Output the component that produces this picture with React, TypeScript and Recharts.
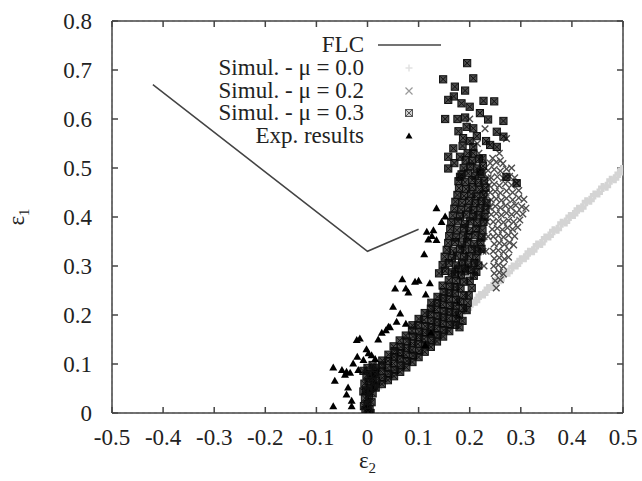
import React from 'react';
import { ScatterChart, Scatter, XAxis, YAxis, CartesianGrid, Legend } from 'recharts';

type P = [number, number];

const xTicks = [-0.5, -0.4, -0.3, -0.2, -0.1, 0, 0.1, 0.2, 0.3, 0.4, 0.5];
const yTicks = [0, 0.1, 0.2, 0.3, 0.4, 0.5, 0.6, 0.7, 0.8];

const legendLabels = ['FLC', 'Simul. - \u03bc = 0.0', 'Simul. - \u03bc = 0.2', 'Simul. - \u03bc = 0.3', 'Exp. results'];

const flc: P[] = [[-0.42, 0.67], [0, 0.33], [0.1, 0.375]];

const simMu00: P[] = [
  [0.020, 0.052], [0.028, 0.064], [0.036, 0.067], [0.044, 0.078], [0.052, 0.082], [0.060, 0.093],
  [0.068, 0.096], [0.076, 0.108], [0.084, 0.111], [0.092, 0.122], [0.100, 0.126], [0.108, 0.137],
  [0.116, 0.140], [0.124, 0.150], [0.132, 0.153], [0.140, 0.163], [0.148, 0.166], [0.156, 0.177],
  [0.164, 0.181], [0.172, 0.193], [0.180, 0.197], [0.188, 0.208], [0.196, 0.212], [0.204, 0.224],
  [0.212, 0.228], [0.220, 0.240], [0.228, 0.243], [0.236, 0.254], [0.244, 0.258], [0.252, 0.269],
  [0.260, 0.272], [0.268, 0.284], [0.276, 0.287], [0.284, 0.298], [0.292, 0.302], [0.300, 0.313],
  [0.308, 0.317], [0.316, 0.328], [0.324, 0.331], [0.332, 0.343], [0.340, 0.346], [0.348, 0.357],
  [0.356, 0.361], [0.364, 0.372], [0.372, 0.375], [0.380, 0.387], [0.388, 0.390], [0.396, 0.401],
  [0.404, 0.405], [0.412, 0.416], [0.420, 0.419], [0.428, 0.431], [0.436, 0.434], [0.444, 0.445],
  [0.452, 0.449], [0.460, 0.460], [0.468, 0.463], [0.476, 0.475], [0.484, 0.478], [0.492, 0.489],
  [0.498, 0.497],
];

const simMu02: P[] = [
  [0.252, 0.255],
  [0.250, 0.270], [0.260, 0.272],
  [0.248, 0.285], [0.258, 0.287], [0.266, 0.284],
  [0.247, 0.300], [0.256, 0.302], [0.266, 0.299],
  [0.248, 0.315], [0.258, 0.317], [0.268, 0.314], [0.276, 0.318],
  [0.246, 0.330], [0.256, 0.332], [0.266, 0.329], [0.277, 0.333],
  [0.248, 0.345], [0.258, 0.347], [0.268, 0.344], [0.278, 0.348], [0.286, 0.343],
  [0.246, 0.360], [0.256, 0.362], [0.266, 0.359], [0.276, 0.363], [0.288, 0.361],
  [0.244, 0.375], [0.254, 0.377], [0.264, 0.374], [0.274, 0.378], [0.284, 0.375], [0.294, 0.379],
  [0.246, 0.390], [0.256, 0.392], [0.266, 0.389], [0.276, 0.393], [0.286, 0.390], [0.298, 0.394],
  [0.242, 0.405], [0.252, 0.407], [0.262, 0.404], [0.272, 0.408], [0.282, 0.405], [0.292, 0.409], [0.304, 0.406],
  [0.240, 0.420], [0.250, 0.422], [0.260, 0.419], [0.270, 0.423], [0.280, 0.420], [0.290, 0.424], [0.302, 0.421], [0.310, 0.418],
  [0.242, 0.435], [0.252, 0.437], [0.262, 0.434], [0.272, 0.438], [0.284, 0.435], [0.296, 0.439], [0.306, 0.436],
  [0.240, 0.450], [0.250, 0.452], [0.260, 0.449], [0.272, 0.453], [0.284, 0.450], [0.296, 0.454],
  [0.238, 0.465], [0.248, 0.467], [0.258, 0.464], [0.270, 0.468], [0.282, 0.465], [0.292, 0.469],
  [0.242, 0.480], [0.254, 0.482], [0.266, 0.479], [0.278, 0.483], [0.288, 0.480],
  [0.236, 0.495], [0.248, 0.497], [0.260, 0.494], [0.272, 0.498],
  [0.240, 0.510], [0.252, 0.512], [0.265, 0.509],
  [0.228, 0.300], [0.232, 0.330], [0.236, 0.360], [0.234, 0.390], [0.238, 0.420], [0.232, 0.450],
  [0.236, 0.480], [0.228, 0.360], [0.224, 0.400], [0.226, 0.330], [0.230, 0.440],
  [0.215, 0.550], [0.230, 0.580], [0.200, 0.600], [0.245, 0.520], [0.260, 0.515], [0.272, 0.560],
  [0.282, 0.500], [0.258, 0.530], [0.218, 0.530],
];

const simMu03: P[] = [
  // vertical stem at e2 ~ 0
  [-0.004, 0.006], [0.004, 0.008], [0.000, 0.018], [0.008, 0.022], [-0.005, 0.030], [0.003, 0.034],
  [0.010, 0.040], [-0.003, 0.046], [0.005, 0.050], [0.012, 0.056], [-0.006, 0.060], [0.002, 0.064],
  [0.010, 0.070], [-0.002, 0.076], [0.006, 0.080], [0.014, 0.084], [-0.008, 0.086], [0.000, 0.092],
  [-0.007, 0.014], [0.006, 0.000], [-0.008, 0.044], [0.001, 0.002],
  // rising band
  [0.016, 0.052], [0.017, 0.066], [0.015, 0.079], [0.016, 0.092], [0.010, 0.098],
  [0.028, 0.059], [0.029, 0.072], [0.027, 0.085], [0.028, 0.097], [0.029, 0.107],
  [0.040, 0.067], [0.041, 0.080], [0.039, 0.092], [0.040, 0.106], [0.041, 0.119],
  [0.052, 0.075], [0.053, 0.088], [0.051, 0.101], [0.052, 0.114], [0.053, 0.126], [0.051, 0.136],
  [0.064, 0.084], [0.065, 0.097], [0.063, 0.110], [0.064, 0.122], [0.065, 0.135], [0.063, 0.148],
  [0.076, 0.093], [0.077, 0.106], [0.075, 0.119], [0.076, 0.132], [0.077, 0.146], [0.075, 0.158],
  [0.088, 0.104], [0.089, 0.117], [0.087, 0.129], [0.088, 0.142], [0.089, 0.156], [0.087, 0.168], [0.088, 0.179],
  [0.100, 0.114], [0.101, 0.127], [0.099, 0.141], [0.100, 0.154], [0.101, 0.166], [0.099, 0.179], [0.100, 0.192],
  [0.112, 0.125], [0.113, 0.138], [0.111, 0.151], [0.112, 0.164], [0.113, 0.177], [0.111, 0.190], [0.112, 0.204],
  [0.124, 0.135], [0.125, 0.148], [0.123, 0.162], [0.124, 0.175], [0.125, 0.188], [0.123, 0.201], [0.124, 0.213], [0.125, 0.225],
  [0.136, 0.146], [0.137, 0.159], [0.135, 0.172], [0.136, 0.185], [0.137, 0.198], [0.135, 0.211], [0.136, 0.224], [0.137, 0.237],
  [0.148, 0.156], [0.149, 0.169], [0.147, 0.182], [0.148, 0.195], [0.149, 0.208], [0.147, 0.221], [0.148, 0.234], [0.149, 0.247], [0.147, 0.260],
  [0.160, 0.167], [0.161, 0.180], [0.159, 0.193], [0.160, 0.206], [0.161, 0.219], [0.159, 0.232], [0.160, 0.245], [0.161, 0.258], [0.159, 0.271],
  [0.172, 0.180], [0.173, 0.192], [0.171, 0.205], [0.172, 0.218], [0.173, 0.231], [0.171, 0.244], [0.172, 0.257], [0.173, 0.270], [0.171, 0.283],
  // streak at e2 ~ 0.18
  [0.180, 0.175], [0.186, 0.188], [0.179, 0.200], [0.187, 0.214], [0.181, 0.227], [0.188, 0.240],
  [0.182, 0.254], [0.189, 0.268], [0.183, 0.281], [0.190, 0.295],
  [0.196, 0.225], [0.198, 0.240], [0.204, 0.255], [0.200, 0.270], [0.208, 0.280], [0.194, 0.210],
  // upper column
  [0.140, 0.285], [0.152, 0.290], [0.165, 0.287], [0.177, 0.293], [0.191, 0.289], [0.203, 0.292], [0.213, 0.288],
  [0.147, 0.302], [0.159, 0.306], [0.173, 0.301], [0.185, 0.307], [0.197, 0.303], [0.209, 0.306], [0.217, 0.301],
  [0.151, 0.319], [0.165, 0.316], [0.175, 0.321], [0.189, 0.318], [0.199, 0.320], [0.213, 0.317],
  [0.155, 0.333], [0.167, 0.331], [0.181, 0.335], [0.191, 0.332], [0.205, 0.334], [0.215, 0.330], [0.223, 0.335],
  [0.158, 0.347], [0.171, 0.349], [0.185, 0.344], [0.195, 0.349], [0.209, 0.345], [0.221, 0.348],
  [0.160, 0.361], [0.173, 0.358], [0.187, 0.362], [0.197, 0.359], [0.211, 0.363], [0.223, 0.358],
  [0.162, 0.376], [0.175, 0.373], [0.189, 0.377], [0.199, 0.372], [0.213, 0.376], [0.225, 0.373],
  [0.164, 0.389], [0.177, 0.391], [0.191, 0.386], [0.201, 0.391], [0.215, 0.387], [0.227, 0.390],
  [0.167, 0.403], [0.181, 0.401], [0.193, 0.405], [0.207, 0.401], [0.217, 0.404], [0.229, 0.400],
  [0.170, 0.417], [0.183, 0.415], [0.197, 0.419], [0.207, 0.414], [0.221, 0.418], [0.231, 0.415],
  [0.172, 0.431], [0.185, 0.429], [0.199, 0.433], [0.211, 0.428], [0.223, 0.432], [0.233, 0.429],
  [0.176, 0.445], [0.189, 0.443], [0.203, 0.447], [0.213, 0.442], [0.227, 0.446],
  [0.179, 0.459], [0.193, 0.457], [0.205, 0.461], [0.219, 0.456], [0.231, 0.460],
  [0.178, 0.473], [0.191, 0.471], [0.205, 0.475], [0.217, 0.470], [0.228, 0.474],
  [0.184, 0.487], [0.197, 0.489], [0.211, 0.484], [0.223, 0.488],
  [0.188, 0.500], [0.201, 0.503], [0.214, 0.499], [0.226, 0.504],
  [0.192, 0.516], [0.205, 0.514], [0.218, 0.518],
  // scattered top
  [0.195, 0.714], [0.207, 0.683], [0.148, 0.681], [0.171, 0.666], [0.191, 0.658], [0.158, 0.639],
  [0.169, 0.646], [0.184, 0.632], [0.227, 0.637], [0.248, 0.636], [0.152, 0.600], [0.191, 0.603],
  [0.220, 0.612], [0.236, 0.599], [0.266, 0.596], [0.253, 0.574], [0.266, 0.564], [0.207, 0.581],
  [0.194, 0.584], [0.187, 0.561], [0.168, 0.540], [0.158, 0.523], [0.181, 0.523], [0.207, 0.543],
  [0.240, 0.547], [0.253, 0.543], [0.158, 0.499], [0.207, 0.530], [0.220, 0.492], [0.272, 0.482],
  [0.292, 0.469], [0.181, 0.482], [0.196, 0.530], [0.214, 0.565], [0.176, 0.600], [0.200, 0.625],
  [0.225, 0.520], [0.170, 0.510], [0.232, 0.555], [0.178, 0.575], [0.200, 0.555], [0.186, 0.545],
];

const expResults: P[] = [
  [0.135, 0.418], [0.152, 0.401], [0.145, 0.390], [0.129, 0.373], [0.116, 0.370], [0.126, 0.361],
  [0.119, 0.354], [0.135, 0.353], [0.111, 0.324], [0.068, 0.273], [0.054, 0.254], [0.093, 0.268],
  [0.100, 0.270], [0.075, 0.254], [0.080, 0.246], [0.114, 0.242], [0.122, 0.265], [0.050, 0.217],
  [0.064, 0.203], [0.057, 0.186], [0.075, 0.182], [0.041, 0.176], [0.036, 0.169], [0.028, 0.164],
  [0.021, 0.150], [0.044, 0.175], [0.124, 0.164], [0.113, 0.139], [-0.015, 0.152], [-0.021, 0.149],
  [-0.002, 0.130], [0.002, 0.122], [0.008, 0.118], [0.015, 0.110], [-0.020, 0.115], [-0.028, 0.101],
  [-0.067, 0.093], [-0.050, 0.088], [-0.041, 0.084], [-0.034, 0.082], [-0.044, 0.078], [-0.064, 0.066],
  [-0.038, 0.052], [-0.041, 0.038], [-0.031, 0.025], [-0.031, 0.014], [-0.067, 0.014], [-0.018, 0.088],
  [-0.008, 0.108],
];

const pts = (a: P[]) => a.map(([x, y]) => ({ x, y }));

const FONT = '"Liberation Serif", "Times New Roman", serif';
const TXT = '#222';
const FS = 23;

const Empty = () => <g />;

const plusPath = (cx: number, cy: number, r: number) => `M${cx - r},${cy}H${cx + r}M${cx},${cy - r}V${cy + r}`;
const crossPath = (cx: number, cy: number, r: number) =>
  `M${cx - r},${cy - r}L${cx + r},${cy + r}M${cx - r},${cy + r}L${cx + r},${cy - r}`;

const PlusShape = (p: any) =>
  p.cx == null ? <g /> : <path d={plusPath(p.cx, p.cy, 4.5)} stroke="#d4d4d4" strokeWidth={4} fill="none" />;
const CrossShape = (p: any) =>
  p.cx == null ? <g /> : <path d={crossPath(p.cx, p.cy, 3.3)} stroke="#4e4e4e" strokeWidth={1.4} fill="none" />;
const BoxShape = (p: any) =>
  p.cx == null ? (
    <g />
  ) : (
    <g>
      <rect x={p.cx - 3.6} y={p.cy - 3.6} width={7.2} height={7.2} fill="rgba(0,0,0,0.7)" stroke="#111" strokeWidth={1} />
      <path d={crossPath(p.cx, p.cy, 3)} stroke="#111" strokeWidth={1} fill="none" />
    </g>
  );
const TriShape = (p: any) =>
  p.cx == null ? <g /> : <path d={`M${p.cx},${p.cy - 4}L${p.cx + 4},${p.cy + 3}L${p.cx - 4},${p.cy + 3}Z`} fill="#000" />;

const LegendBox = () => {
  const rows = [45, 68, 91, 113, 136];
  const mx = 409;
  return (
    <svg width={642} height={160} style={{ display: 'block' }}>
      <g fontFamily={FONT} fontSize={FS} fill={TXT} textAnchor="end">
        {legendLabels.map((l, i) => (
          <text key={l} x={364} y={rows[i] + 7}>
            {l}
          </text>
        ))}
      </g>
      <line x1={378} x2={441} y1={rows[0]} y2={rows[0]} stroke="#444" strokeWidth={1.5} />
      <path d={plusPath(mx, rows[1], 3.5)} stroke="#e2e2e2" strokeWidth={1.5} fill="none" />
      <path d={crossPath(mx, rows[2], 3.5)} stroke="#999" strokeWidth={1.2} fill="none" />
      <rect x={mx - 3.5} y={rows[3] - 3.5} width={7} height={7} fill="rgba(60,60,60,0.25)" stroke="#555" strokeWidth={1} />
      <path d={crossPath(mx, rows[3], 3)} stroke="#555" strokeWidth={1} fill="none" />
      <path d={`M${mx},${rows[4] - 3.5}L${mx + 3.5},${rows[4] + 2.5}L${mx - 3.5},${rows[4] + 2.5}Z`} fill="#000" />
    </svg>
  );
};

const fmt = (v: number) => (v === 0 ? '0' : v.toFixed(1));
const tickStyle = { fontFamily: FONT, fontSize: FS, fill: TXT };

const YLabel = (props: any) => {
  const vb = props.viewBox || { x: 42, y: 21, width: 70, height: 392 };
  const x = vb.x - 18;
  const y = vb.y + vb.height / 2;
  return (
    <text transform={`translate(${x},${y}) rotate(-90)`} textAnchor="middle" fontFamily={FONT} fontSize={FS} fill={TXT}>
      {'\u03b5'}
      <tspan fontSize={15} dy={5}>1</tspan>
    </text>
  );
};

const XLabel = (props: any) => {
  const vb = props.viewBox || { x: 112, y: 413, width: 511, height: 40 };
  const x = vb.x + vb.width / 2;
  const y = vb.y + 55;
  return (
    <text x={x} y={y} textAnchor="middle" fontFamily={FONT} fontSize={FS} fill={TXT}>
      {'\u03b5'}
      <tspan fontSize={15} dy={5}>2</tspan>
    </text>
  );
};

export default function App() {
  return (
    <div style={{ position: 'absolute', left: 0, top: 0, width: 642, height: 481, background: '#fff' }}>
      <ScatterChart width={642} height={481} margin={{ top: 20, right: 18, left: 42, bottom: 28 }}>
        <CartesianGrid stroke="#cfcfcf" strokeDasharray="3 3" />
        <XAxis
          xAxisId="b"
          type="number"
          dataKey="x"
          domain={[-0.5, 0.5]}
          ticks={xTicks}
          tickFormatter={fmt}
          allowDataOverflow
          height={40}
          stroke="#444"
          strokeWidth={1.5}
          tickSize={-6}
          tickMargin={22}
          tick={tickStyle}
          interval={0}
          label={{ content: XLabel }}
        />
        <XAxis
          xAxisId="t"
          orientation="top"
          type="number"
          dataKey="x"
          domain={[-0.5, 0.5]}
          ticks={xTicks}
          tickFormatter={() => ''}
          allowDataOverflow
          height={1}
          stroke="#444"
          strokeWidth={1.5}
          tickSize={-6}
          interval={0}
        />
        <YAxis
          yAxisId="l"
          type="number"
          dataKey="y"
          domain={[0, 0.8]}
          ticks={yTicks}
          tickFormatter={fmt}
          allowDataOverflow
          width={70}
          stroke="#444"
          strokeWidth={1.5}
          tickSize={-6}
          tickMargin={26}
          tick={tickStyle}
          interval={0}
          label={{ content: YLabel }}
        />
        <YAxis
          yAxisId="r"
          orientation="right"
          type="number"
          dataKey="y"
          domain={[0, 0.8]}
          ticks={yTicks}
          tickFormatter={() => ''}
          allowDataOverflow
          width={1}
          stroke="#444"
          strokeWidth={1.5}
          tickSize={-6}
          interval={0}
        />
        <Legend
          layout="horizontal"
          verticalAlign="middle"
          align="center"
          content={LegendBox}
          wrapperStyle={{ left: 0, top: 0, width: 642, height: 160 }}
        />
        <Scatter name="Simul. - \u03bc = 0.0" data={pts(simMu00)} xAxisId="b" yAxisId="l" shape={PlusShape} isAnimationActive={false} />
        <Scatter name="Simul. - \u03bc = 0.2" data={pts(simMu02)} xAxisId="b" yAxisId="l" shape={CrossShape} isAnimationActive={false} />
        <Scatter name="Simul. - \u03bc = 0.3" data={pts(simMu03)} xAxisId="b" yAxisId="l" shape={BoxShape} isAnimationActive={false} />
        <Scatter name="Exp. results" data={pts(expResults)} xAxisId="b" yAxisId="l" shape={TriShape} isAnimationActive={false} />
        <Scatter
          name="FLC"
          data={pts(flc)}
          xAxisId="b"
          yAxisId="l"
          line={{ stroke: '#444', strokeWidth: 1.5 }}
          lineType="joint"
          shape={Empty}
          isAnimationActive={false}
        />
      </ScatterChart>
    </div>
  );
}
